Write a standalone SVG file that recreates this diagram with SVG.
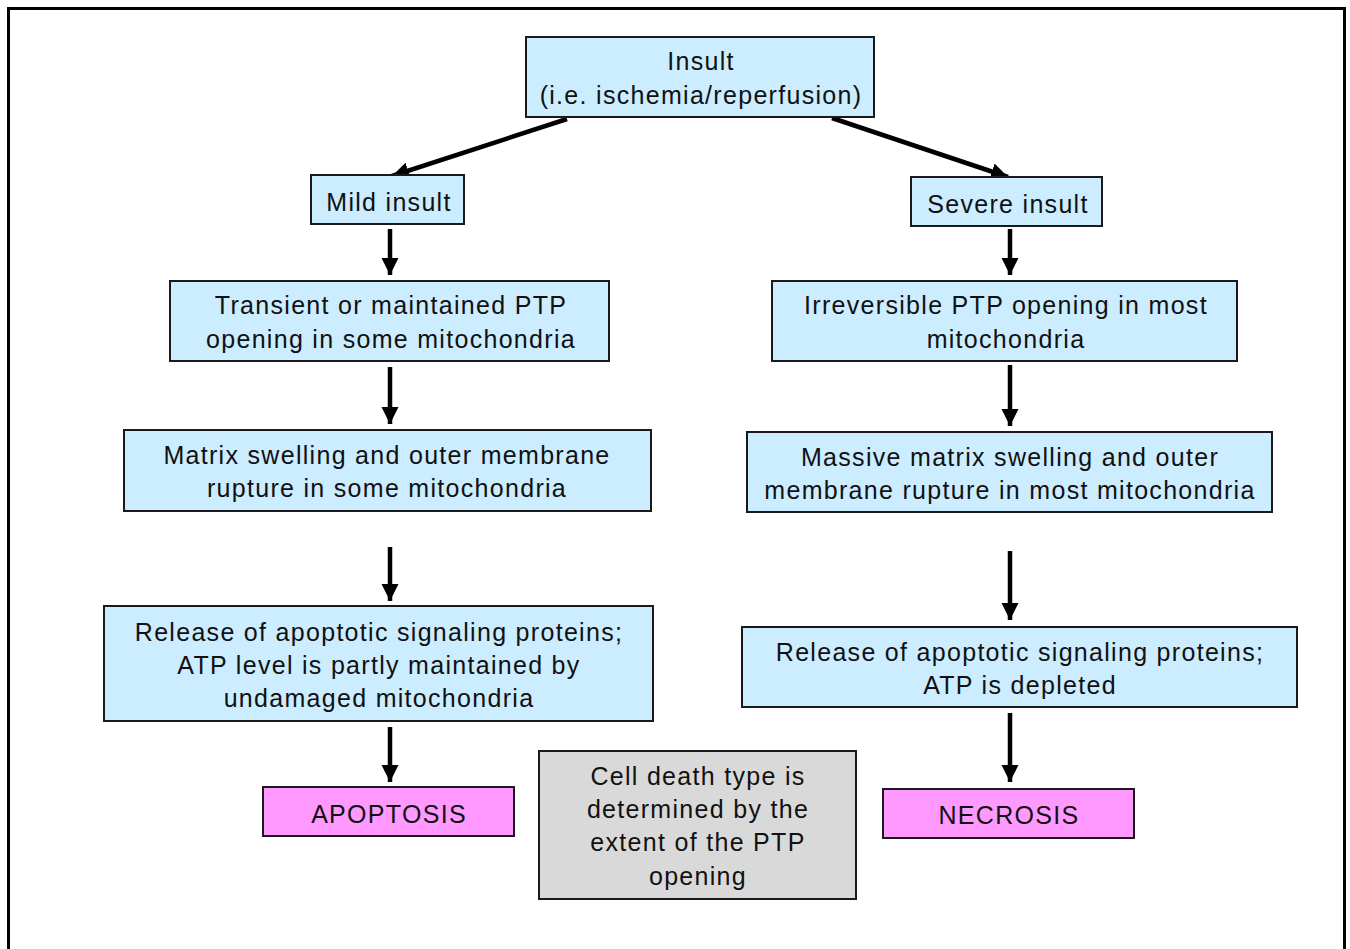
<svg xmlns="http://www.w3.org/2000/svg" width="1350" height="949" viewBox="0 0 1350 949">
<style>
.box{fill:#CCECFF;stroke:#1a1a1a;stroke-width:2}
.pink{fill:#FF99FF;stroke:#1a1a1a;stroke-width:2}
.gray{fill:#D9D9D9;stroke:#1a1a1a;stroke-width:2}
text{font-family:"Liberation Sans",Arial,sans-serif;font-size:25px;letter-spacing:1.3px;fill:#111;text-anchor:middle}
.conn line{stroke:#000;stroke-width:4.5}
</style>
<defs>
<marker id="ah" viewBox="0 0 10 10" refX="10" refY="5" markerUnits="userSpaceOnUse" markerWidth="17" markerHeight="18" orient="auto">
<path d="M0,0 L10,5 L0,10 Z" fill="#000"/>
</marker>
</defs>
<rect x="0" y="0" width="1350" height="949" fill="#fff"/>
<path d="M8.5,960 V8.5 H1344.5 V960" fill="none" stroke="#000" stroke-width="3"/>
<g class="conn">
<line x1="567" y1="119" x2="392" y2="176" marker-end="url(#ah)"/>
<line x1="832" y1="118" x2="1008" y2="177" marker-end="url(#ah)"/>
<line x1="390" y1="229" x2="390" y2="275" marker-end="url(#ah)"/>
<line x1="1010" y1="229" x2="1010" y2="275" marker-end="url(#ah)"/>
<line x1="390" y1="367" x2="390" y2="424" marker-end="url(#ah)"/>
<line x1="1010" y1="365" x2="1010" y2="426" marker-end="url(#ah)"/>
<line x1="390" y1="547" x2="390" y2="601" marker-end="url(#ah)"/>
<line x1="1010" y1="551" x2="1010" y2="620" marker-end="url(#ah)"/>
<line x1="390" y1="727" x2="390" y2="782" marker-end="url(#ah)"/>
<line x1="1010" y1="713" x2="1010" y2="782" marker-end="url(#ah)"/>
</g>
<g id="insult">
<rect class="box" x="526" y="37" width="348" height="80"/>
<text x="701" y="70">Insult</text>
<text x="701" y="104">(i.e. ischemia/reperfusion)</text>
</g>
<g id="mild">
<rect class="box" x="311" y="175" width="153" height="49"/>
<text x="389" y="211">Mild insult</text>
</g>
<g id="severe">
<rect class="box" x="911" y="177" width="191" height="49"/>
<text x="1008" y="213">Severe insult</text>
</g>
<g id="transient">
<rect class="box" x="170" y="281" width="439" height="80"/>
<text x="391" y="314">Transient or maintained PTP</text>
<text x="391" y="348">opening in some mitochondria</text>
</g>
<g id="irreversible">
<rect class="box" x="772" y="281" width="465" height="80"/>
<text x="1006" y="314">Irreversible PTP opening in most</text>
<text x="1006" y="348">mitochondria</text>
</g>
<g id="matrix">
<rect class="box" x="124" y="430" width="527" height="81"/>
<text x="387" y="464">Matrix swelling and outer membrane</text>
<text x="387" y="497">rupture in some mitochondria</text>
</g>
<g id="massive">
<rect class="box" x="747" y="432" width="525" height="80"/>
<text x="1010" y="466">Massive matrix swelling and outer</text>
<text x="1010" y="499">membrane rupture in most mitochondria</text>
</g>
<g id="releaseL">
<rect class="box" x="104" y="606" width="549" height="115"/>
<text x="379" y="641">Release of apoptotic signaling proteins;</text>
<text x="379" y="674">ATP level is partly maintained by</text>
<text x="379" y="707">undamaged mitochondria</text>
</g>
<g id="releaseR">
<rect class="box" x="742" y="627" width="555" height="80"/>
<text x="1020" y="661">Release of apoptotic signaling proteins;</text>
<text x="1020" y="694">ATP is depleted</text>
</g>
<g id="apoptosis">
<rect class="pink" x="263" y="787" width="251" height="49"/>
<text x="389" y="823">APOPTOSIS</text>
</g>
<g id="necrosis">
<rect class="pink" x="883" y="789" width="251" height="49"/>
<text x="1009" y="824">NECROSIS</text>
</g>
<g id="note">
<rect class="gray" x="539" y="751" width="317" height="148"/>
<text x="698" y="785">Cell death type is</text>
<text x="698" y="818">determined by the</text>
<text x="698" y="851">extent of the PTP</text>
<text x="698" y="885">opening</text>
</g>
</svg>
